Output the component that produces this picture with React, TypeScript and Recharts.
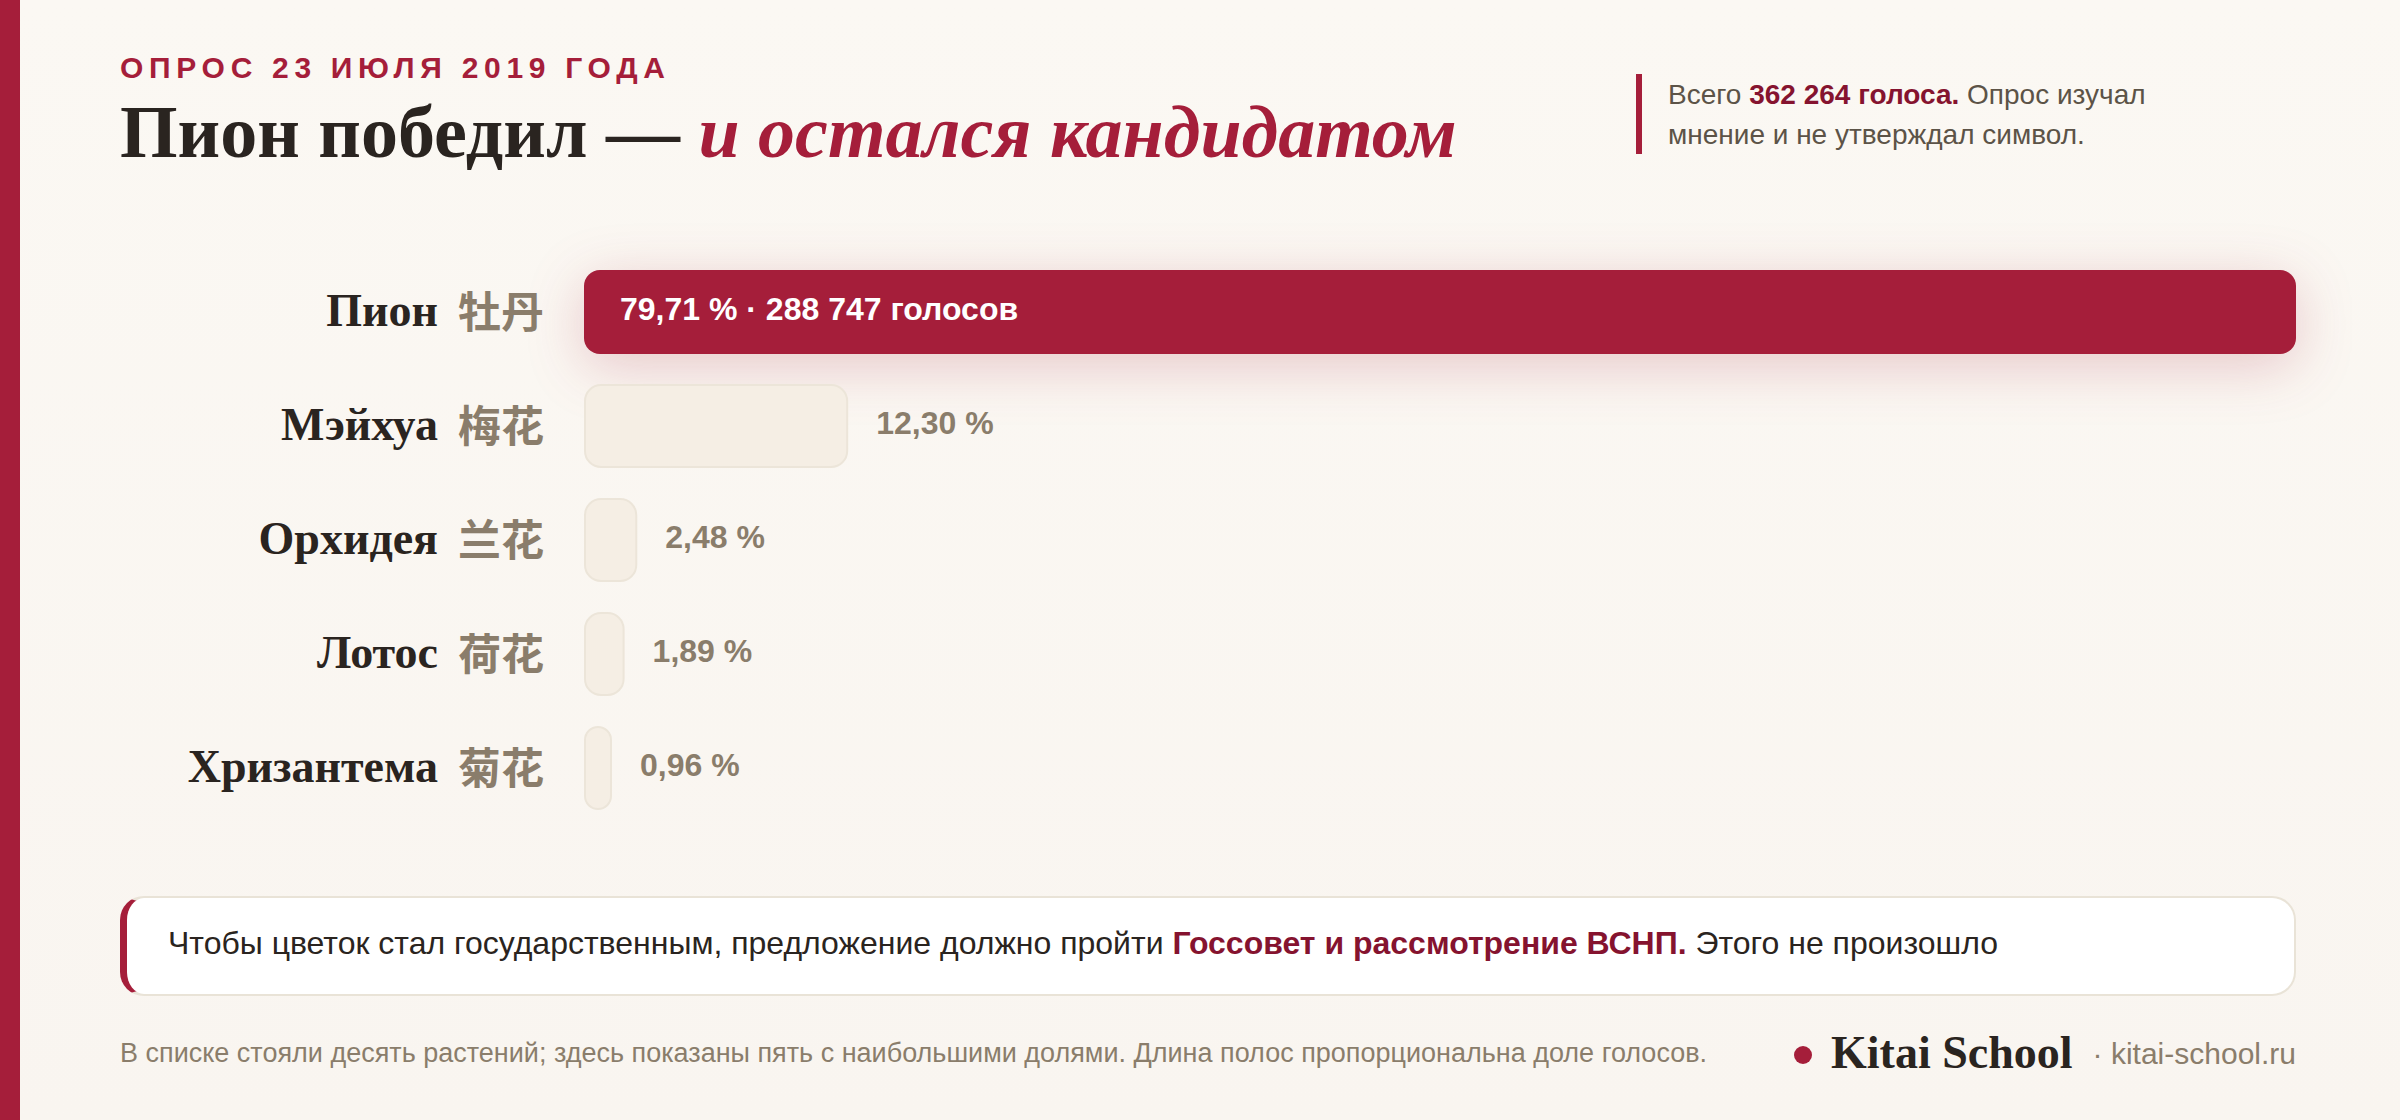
import { BarChart, Bar, XAxis, YAxis, LabelList, Rectangle } from "recharts"

const names = ["Пион", "Мэйхуа", "Орхидея", "Лотос", "Хризантема"]
const hanzi = ["牡丹", "梅花", "兰花", "荷花", "菊花"]
const shares = [79.71, 12.3, 2.48, 1.89, 0.96]
const shareLabels = ["79,71 % · 288 747 голосов", "12,30 %", "2,48 %", "1,89 %", "0,96 %"]

const data = names.map((name, i) => ({ name, share: shares[i], label: shareLabels[i] }))

const SERIF = '"Liberation Serif", serif'
const SANS = '"Liberation Sans", sans-serif'
const CJK = '"Noto Sans CJK SC", sans-serif'
const CRIMSON = "#a51e3a"
const WINE = "#85132f"
const INK = "#2a2420"
const MUTED = "#8a7d6b"

function Txt({ x, y, size, font = SANS, right, style, children }: any) {
  const k = font === SERIF ? 0.8375 : 0.8465
  const pos = right !== undefined ? { right: 2400 - right } : { left: x }
  return (
    <div style={{ position: "absolute", top: y - k * size, ...pos, fontSize: size, lineHeight: 1, fontFamily: font, whiteSpace: "nowrap", ...style }}>
      {children}
    </div>
  )
}

function CategoryTick({ x, y, index }: any) {
  return (
    <g>
      <text x={x - 138} y={y + 14} textAnchor="end" fontFamily={SERIF} fontWeight={700} fontSize={46} fill={INK}>
        {names[index]}
      </text>
      <text x={x - 118} y={y + 16} fontFamily={CJK} fontWeight={700} fontSize={43} fill={MUTED}>
        {hanzi[index]}
      </text>
    </g>
  )
}

function BarShape(props: any) {
  const { x, y, width, height, index } = props
  if (index === 0) {
    return (
      <Rectangle x={x} y={y} width={width} height={height} radius={16} fill={CRIMSON}
        style={{ filter: "drop-shadow(0 12px 28px rgba(165,30,58,0.22))" }} />
    )
  }
  return (
    <Rectangle x={x + 1} y={y + 1} width={width - 2} height={height - 2} radius={16}
      fill="#f5eee4" stroke="#ece5d9" strokeWidth={2} />
  )
}

function ShareLabel({ x, y, width, height, value, index }: any) {
  const cy = y + height / 2 + 8
  if (index === 0) {
    return <text x={x + 36} y={cy} fontFamily={SANS} fontWeight={700} fontSize={32} fill="#ffffff">{value}</text>
  }
  return <text x={x + width + 28} y={cy} fontFamily={SANS} fontWeight={700} fontSize={32} fill={MUTED}>{value}</text>
}

export default function App() {
  return (
    <div style={{ position: "absolute", left: 0, top: 0, width: 2400, height: 1120, background: "linear-gradient(180deg, #fbf8f3, #f9f5f0)", overflow: "hidden" }}>
      <div style={{ position: "absolute", left: 0, top: 0, width: 20, height: 1120, background: CRIMSON }} />

      <Txt x={120} y={78} size={30} style={{ fontWeight: 700, color: CRIMSON, letterSpacing: "0.19em" }}>
        ОПРОС 23 ИЮЛЯ 2019 ГОДА
      </Txt>
      <Txt x={120} y={157} size={74} font={SERIF} style={{ fontWeight: 700, color: INK }}>
        Пион победил — <span style={{ color: CRIMSON, fontStyle: "italic" }}>и остался кандидатом</span>
      </Txt>

      <div style={{ position: "absolute", left: 1636, top: 74, width: 6, height: 80, background: CRIMSON }} />
      <Txt x={1668} y={105} size={28} style={{ color: "#5c5347" }}>
        Всего <b style={{ color: WINE }}>362 264 голоса.</b> Опрос изучал
      </Txt>
      <Txt x={1668} y={145} size={28} style={{ color: "#5c5347" }}>
        мнение и не утверждал символ.
      </Txt>

      <div style={{ position: "absolute", left: 0, top: 0 }}>
        <BarChart width={2400} height={1120} data={data} layout="vertical" barSize={84}
          margin={{ top: 255, bottom: 295, left: 120, right: 104 }}>
          <XAxis type="number" domain={[0, 79.71]} hide />
          <YAxis type="category" dataKey="name" width={464} axisLine={false} tickLine={false} tick={<CategoryTick />} interval={0} />
          <Bar dataKey="share" minPointSize={28} shape={<BarShape />} isAnimationActive={false}>
            <LabelList dataKey="label" content={<ShareLabel />} />
          </Bar>
        </BarChart>
      </div>

      <div style={{ position: "absolute", left: 120, top: 896, width: 2176, height: 100, boxSizing: "border-box", background: "#ffffff",
        border: "2px solid #e9e3d7", borderLeft: `7px solid ${CRIMSON}`, borderRadius: 24 }} />
      <Txt x={168} y={954} size={32} style={{ color: INK }}>
        Чтобы цветок стал государственным, предложение должно пройти <b style={{ color: WINE }}>Госсовет и рассмотрение ВСНП.</b> Этого не произошло
      </Txt>

      <Txt x={120} y={1063} size={27} style={{ color: MUTED }}>
        В списке стояли десять растений; здесь показаны пять с наибольшими долями. Длина полос пропорциональна доле голосов.
      </Txt>
      <div style={{ position: "absolute", left: 1794, top: 1046, width: 18, height: 18, borderRadius: "50%", background: CRIMSON }} />
      <Txt x={1831} y={1069} size={46} font={SERIF} style={{ fontWeight: 700, color: INK }}>Kitai School</Txt>
      <Txt right={2296} y={1064} size={30} style={{ color: MUTED }}>· kitai-school.ru</Txt>
    </div>
  )
}
